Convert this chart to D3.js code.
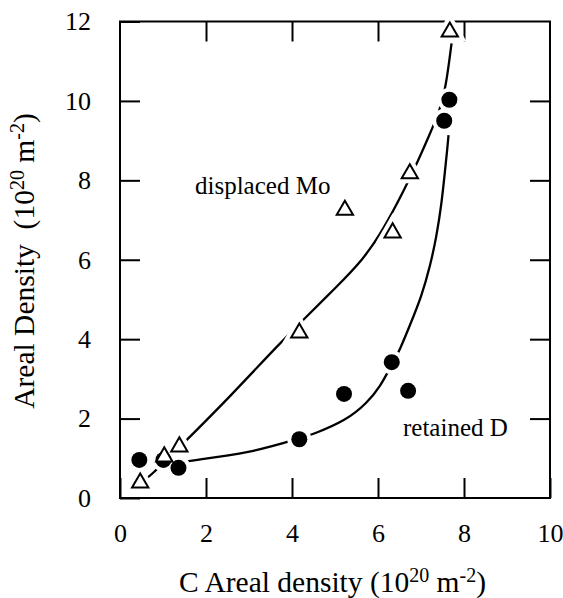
<!DOCTYPE html>
<html lang="en">
<head>
<meta charset="UTF-8">
<title>Areal Density vs C Areal density</title>
<script src="https://d3js.org/d3.v7.min.js"></script>
<style>
  body { margin: 0; background: #fff; }
  svg { font-family: "Liberation Serif", "Times New Roman", serif; }
  .axis text { font-family: "Liberation Serif", "Times New Roman", serif; font-size: 26px; fill: #000; }
  .axis line { stroke: #000; stroke-width: 2px; }
  .axis path { display: none; }
</style>
</head>
<body>
<script>
// displaced Mo (open triangles)
const moX = [0.47, 1.03, 1.38, 4.17, 5.23, 6.34, 6.74, 7.67];
const moY = [0.38, 1.04, 1.29, 4.16, 7.25, 6.68, 8.17, 11.74];
// retained D (filled circles)
const dX = [0.45, 1.01, 1.36, 4.17, 5.21, 6.32, 6.70, 7.54, 7.66];
const dY = [0.96, 0.96, 0.76, 1.48, 2.62, 3.42, 2.70, 9.50, 10.03];

// hand-drawn fit curves
const moFitX = [0.47, 0.70, 1.55, 2.52, 3.72, 4.30, 5.02, 5.66, 6.12, 6.63, 6.94, 7.20, 7.44, 7.58, 7.71];
const moFitY = [0.38, 0.54, 1.46, 2.51, 3.90, 4.53, 5.30, 6.01, 6.75, 7.80, 8.51, 9.15, 9.77, 10.36, 11.45];
const dFitX = [1.50, 1.63, 3.02, 4.17, 4.46, 5.27, 5.74, 6.05, 6.32, 6.51, 6.76, 7.01, 7.21, 7.36, 7.48, 7.56, 7.61, 7.64];
const dFitY = [0.91, 0.94, 1.13, 1.50, 1.59, 1.96, 2.39, 2.80, 3.36, 3.73, 4.40, 5.07, 5.83, 6.58, 7.42, 8.26, 8.77, 9.14];

const xTicks = [0, 2, 4, 6, 8, 10];
const yTicks = [0, 2, 4, 6, 8, 10, 12];

const svg = d3.select("body").append("svg")
    .attr("width", 563)
    .attr("height", 598);

const x = d3.scaleLinear().domain([0, 10]).range([120, 550]);
const y = d3.scaleLinear().domain([0, 12]).range([498, 21.5]);

// axes with inward ticks
svg.append("g").attr("class", "axis")
    .attr("transform", "translate(0,498)")
    .call(d3.axisBottom(x).tickValues(xTicks).tickSize(-20).tickPadding(26).tickFormat(d3.format("d")));
svg.append("g").attr("class", "axis")
    .attr("transform", "translate(120,0)")
    .call(d3.axisLeft(y).tickValues(yTicks).tickSize(-20).tickPadding(29).tickFormat(d3.format("d")));
svg.append("g").attr("class", "axis")
    .attr("transform", "translate(0,21.5)")
    .call(d3.axisTop(x).tickValues(xTicks.slice(1, -1)).tickSize(-20).tickFormat(""));
svg.append("g").attr("class", "axis")
    .attr("transform", "translate(550,0)")
    .call(d3.axisRight(y).tickValues(yTicks.slice(1, -1)).tickSize(-20).tickFormat(""));

// frame
svg.append("rect")
    .attr("x", x(0)).attr("y", y(12))
    .attr("width", x(10) - x(0)).attr("height", y(0) - y(12))
    .attr("fill", "none").attr("stroke", "#000").attr("stroke-width", 2);

// curves (smoothed through the read-off points)
const line = d3.line().x(d => x(d[0])).y(d => y(d[1])).curve(d3.curveBasis);
svg.append("path")
    .attr("d", line(d3.zip(moFitX, moFitY)))
    .attr("fill", "none").attr("stroke", "#000").attr("stroke-width", 2.3);
svg.append("path")
    .attr("d", line(d3.zip(dFitX, dFitY)))
    .attr("fill", "none").attr("stroke", "#000").attr("stroke-width", 2.3);

const tri = d3.symbol().type(d3.symbolTriangle).size(115);
const moPts = d3.zip(moX, moY);
const dPts = d3.zip(dX, dY);

// white halos so the curves break around the markers
svg.append("g").selectAll("circle").data(dPts).join("circle")
    .attr("cx", d => x(d[0])).attr("cy", d => y(d[1])).attr("r", 12)
    .attr("fill", "#fff");
svg.append("g").selectAll("path").data(moPts).join("path")
    .attr("d", tri)
    .attr("transform", d => `translate(${x(d[0])},${y(d[1])})`)
    .attr("fill", "#fff").attr("stroke", "#fff").attr("stroke-width", 10);

// markers
svg.append("g").selectAll("circle").data(dPts).join("circle")
    .attr("cx", d => x(d[0])).attr("cy", d => y(d[1])).attr("r", 8)
    .attr("fill", "#000");
svg.append("g").selectAll("path").data(moPts).join("path")
    .attr("d", tri)
    .attr("transform", d => `translate(${x(d[0])},${y(d[1])})`)
    .attr("fill", "#fff").attr("stroke", "#000").attr("stroke-width", 2);

// series labels
svg.append("text").attr("x", 195).attr("y", 194)
    .style("font-size", "25px").text("displaced Mo");
svg.append("text").attr("x", 403).attr("y", 436)
    .style("font-size", "25px").text("retained D");

// axis titles
const xt = svg.append("text").attr("x", 179).attr("y", 592).style("font-size", "29.5px");
xt.append("tspan").text("C Areal density (10");
xt.append("tspan").attr("dy", -10).style("font-size", "20px").text("20");
xt.append("tspan").attr("dy", 10).text(" m");
xt.append("tspan").attr("dy", -10).style("font-size", "20px").text("-2");
xt.append("tspan").attr("dy", 10).text(")");

const yt = svg.append("text")
    .attr("transform", "translate(34,261) rotate(-90)")
    .attr("text-anchor", "middle")
    .style("font-size", "29.5px");
yt.append("tspan").text("Areal Density \u00a0(10");
yt.append("tspan").attr("dy", -10).style("font-size", "20px").text("20");
yt.append("tspan").attr("dy", 10).text(" m");
yt.append("tspan").attr("dy", -10).style("font-size", "20px").text("-2");
yt.append("tspan").attr("dy", 10).text(")");
</script>
</body>
</html>
